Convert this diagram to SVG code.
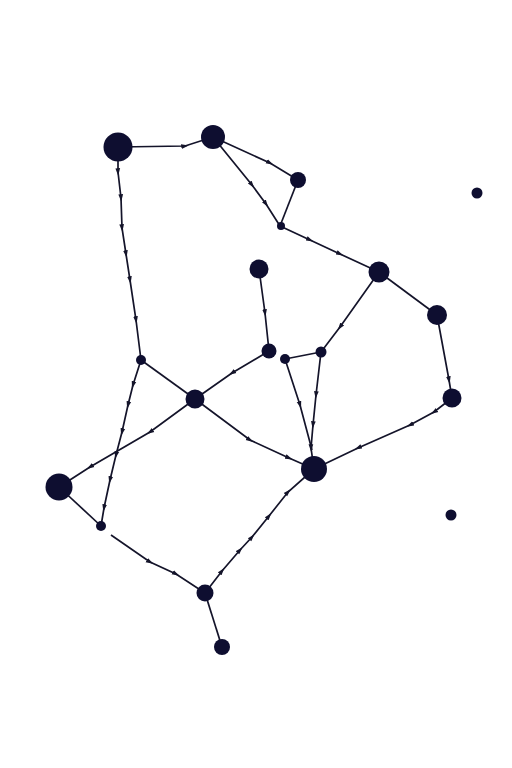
<svg xmlns="http://www.w3.org/2000/svg" width="512" height="768" viewBox="0 0 512 768">
<defs>
<marker id="m" viewBox="-4 -3 8 6" markerWidth="7.5" markerHeight="6" orient="auto" markerUnits="userSpaceOnUse"><path d="M-4,-2.5 L4,0 L-4,2.5 Z" fill="#14142a"/></marker>
<style>
.e{stroke:#14142a;stroke-width:1.7;fill:none;marker-mid:url(#m)}
.n{fill:#0e0e30}
</style>
</defs>
<rect width="512" height="768" fill="#fff"/>
<g id="edges">
<path class="e" d="M118,147 L185,146 L213,137"/>
<path class="e" d="M213,137 L270,163 L298,180"/>
<path class="e" d="M213,137 L252,185 L266,204 L280,226"/>
<path class="e" d="M298,180 L280,226"/>
<path class="e" d="M280,226 L310,240 L340,254 L379,272"/>
<path class="e" d="M379,272 L340,327 L321,352"/>
<path class="e" d="M379,272 L437,315"/>
<path class="e" d="M437,315 L449,380 L452,398"/>
<path class="e" d="M452,398 L434,412 L410,425 L358,448 L314,469"/>
<path class="e" d="M321,352 L285,359"/>
<path class="e" d="M321,352 L316,395 L313,425 L311,448 L314,469"/>
<path class="e" d="M285,359 L300,405 L312,450"/>
<path class="e" d="M259,269 L265,313 L269,351"/>
<path class="e" d="M269,351 L232,373 L195,399"/>
<path class="e" d="M141,360 L195,399"/>
<path class="e" d="M118,147 L118,172 L121,198 L122,228 L126,254 L130,280 L136,320 L141,360"/>
<path class="e" d="M141,360 L133,385 L128,405 L122,432 L116,455 L110,480 L104,508 L101,526"/>
<path class="e" d="M195,399 L150,432 L90,467 L59,487"/>
<path class="e" d="M195,399 L250,440 L289,458 L314,469"/>
<path class="e" d="M59,487 L101,526"/>
<path class="e" d="M111,535 L150,562 L176,574 L205,593"/>
<path class="e" d="M205,593 L222,571 L240,550 L252,537 L269,516 L288,492 L314,469"/>
<path class="e" d="M205,593 L222,647"/>
</g>
<g id="nA"><circle class="n" cx="118" cy="147" r="14.5"/></g>
<g id="nB"><circle class="n" cx="213" cy="137" r="12"/></g>
<g id="nC"><circle class="n" cx="298" cy="180" r="8"/></g>
<g id="nD"><circle class="n" cx="477" cy="193" r="5.5"/></g>
<g id="nE"><circle class="n" cx="281" cy="226" r="4"/></g>
<g id="nF"><circle class="n" cx="379" cy="272" r="10.5"/></g>
<g id="nG"><circle class="n" cx="259" cy="269" r="9.5"/></g>
<g id="nH"><circle class="n" cx="437" cy="315" r="10"/></g>
<g id="nI"><circle class="n" cx="269" cy="351" r="7.5"/></g>
<g id="nJ"><circle class="n" cx="285" cy="359" r="5"/></g>
<g id="nK"><circle class="n" cx="321" cy="352" r="5.5"/></g>
<g id="nL"><circle class="n" cx="141" cy="360" r="5"/></g>
<g id="nM"><circle class="n" cx="195" cy="399" r="9.5"/></g>
<g id="nN"><circle class="n" cx="452" cy="398" r="9.5"/></g>
<g id="nO"><circle class="n" cx="314" cy="469" r="13"/></g>
<g id="nP"><circle class="n" cx="59" cy="487" r="13.5"/></g>
<g id="nQ"><circle class="n" cx="451" cy="515" r="5.5"/></g>
<g id="nR"><circle class="n" cx="101" cy="526" r="5"/></g>
<g id="nS"><circle class="n" cx="205" cy="593" r="8.5"/></g>
<g id="nT"><circle class="n" cx="222" cy="647" r="8"/></g>
</svg>
